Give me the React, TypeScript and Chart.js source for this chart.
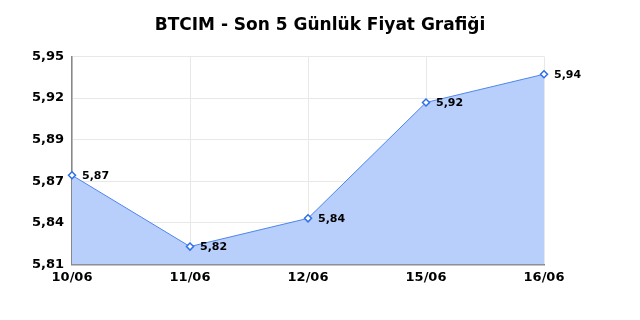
import React, { useEffect, useRef } from "react";
import { Chart, registerables } from "chart.js";

Chart.register(...registerables);

const categories = ["10/06", "11/06", "12/06", "15/06", "16/06"];
const prices = [5.87, 5.822, 5.841, 5.919, 5.938];
const priceLabels = ["5,87", "5,82", "5,84", "5,92", "5,94"];
const yTicks = [5.81, 5.838, 5.866, 5.894, 5.922, 5.95];
const yTickLabels = ["5,81", "5,84", "5,87", "5,89", "5,92", "5,95"];
const titleText = "BTCIM - Son 5 Günlük Fiyat Grafiği";

const FONT = "'DejaVu Sans', sans-serif";

const labelPlugin = {
  id: "pointLabels",
  afterDatasetsDraw(chart: any) {
    const ctx = chart.ctx;
    const meta = chart.getDatasetMeta(0);
    ctx.save();
    ctx.font = `bold 11px ${FONT}`;
    ctx.fillStyle = "#000";
    ctx.textAlign = "left";
    ctx.textBaseline = "middle";
    meta.data.forEach((pt: any, i: number) => {
      ctx.fillText(priceLabels[i], pt.x + 10, pt.y + 1);
    });
    ctx.restore();
  },
};

export default function App() {
  const ref = useRef<HTMLCanvasElement>(null);
  useEffect(() => {
    document.body.style.margin = "0";
    const chart = new Chart(ref.current!, {
      type: "line",
      data: {
        labels: categories,
        datasets: [
          {
            data: prices,
            borderColor: "#4f86ec",
            borderWidth: 1,
            backgroundColor: "rgba(183, 207, 250, 1)",
            fill: "start",
            tension: 0,
            pointStyle: "rectRot",
            pointRadius: 3.5,
            pointBorderWidth: 1.5,
            pointBackgroundColor: "#ffffff",
            pointBorderColor: "#2f6fe8",
          },
        ],
      },
      options: {
        animation: false,
        responsive: false,
        layout: { padding: { left: 0, right: 0, top: 0, bottom: 30 } },
        plugins: {
          legend: { display: false },
          tooltip: { enabled: false },
          title: {
            display: true,
            text: titleText,
            color: "#000",
            font: { family: FONT, size: 17, weight: "bold" },
            padding: { top: 15, bottom: 21 },
          },
        },
        scales: {
          x: {
            offset: false,
            grid: { color: "#e8e8e8", drawTicks: false },
            border: { color: "#888888", width: 1.5 },
            ticks: {
              color: "#000",
              font: { family: FONT, size: 13, weight: "bold" },
              padding: 5,
              maxRotation: 0,
            },
          },
          y: {
            min: 5.81,
            max: 5.95,
            afterBuildTicks(scale: any) {
              scale.ticks = yTicks.map((v) => ({ value: v }));
            },
            afterFit(scale: any) {
              scale.width = 72;
            },
            grid: { color: "#e8e8e8", drawTicks: false },
            border: { color: "#888888", width: 1.5 },
            ticks: {
              color: "#000",
              font: { family: FONT, size: 13, weight: "bold" },
              padding: 8,
              callback: (_v: any, i: number) => yTickLabels[i],
            },
          },
          yRight: {
            position: "right",
            min: 5.81,
            max: 5.95,
            afterFit(scale: any) {
              scale.width = 96;
            },
            grid: { display: false },
            border: { display: false },
            ticks: { display: false },
          },
        },
      },
      plugins: [labelPlugin],
    });
    return () => chart.destroy();
  }, []);
  return (
    <div style={{ width: 640, height: 320, background: "#fff" }}>
      <canvas ref={ref} width={640} height={320} />
    </div>
  );
}
